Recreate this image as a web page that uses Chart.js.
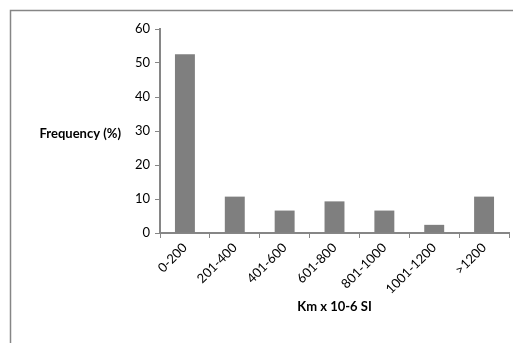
<!DOCTYPE html>
<html>
<head>
    <title>Km histogram</title>
    <script src="https://cdn.jsdelivr.net/npm/chart.js"></script>
    <style>
        html, body {
            margin: 0;
            padding: 0;
            background: #fff;
            overflow: hidden;
        }
        #wrap {
            width: 513px;
            height: 343px;
        }
    </style>
</head>
<body>
    <div id="wrap"><canvas id="kmChart"></canvas></div>

    <script>
        // data
        const categories = ['0-200', '201-400', '401-600', '601-800', '801-1000', '1001-1200', '>1200'];
        const frequency = [52.6, 10.7, 6.6, 9.3, 6.6, 2.4, 10.7];
        const yTitle = 'Frequency (%)';
        const xTitle = 'Km x 10-6 SI';

        const FONT = 'Lato, "Open Sans", sans-serif';
        const AXIS = '#868686';

        // outer frame + horizontal y title (Chart.js only draws it rotated)
        const extras = {
            id: 'extras',
            beforeDraw(chart) {
                const c = chart.ctx;
                c.save();
                c.strokeStyle = AXIS;
                c.lineWidth = 1.5;
                c.strokeRect(10.5, 10.5, 700, 500);
                c.restore();
            },
            afterDraw(chart) {
                const c = chart.ctx;
                const y = chart.scales.y;
                c.save();
                c.font = 'bold 13px ' + FONT;
                c.fillStyle = '#000';
                c.textAlign = 'right';
                c.textBaseline = 'middle';
                c.fillText(yTitle, 121, (y.top + y.bottom) / 2 + 3);
                c.restore();
            }
        };

        new Chart(document.getElementById('kmChart'), {
            type: 'bar',
            data: {
                labels: categories,
                datasets: [{
                    data: frequency,
                    backgroundColor: '#7f7f7f',
                    borderWidth: 0,
                    barPercentage: 0.4,
                    categoryPercentage: 1.0
                }]
            },
            options: {
                responsive: true,
                maintainAspectRatio: false,
                animation: false,
                layout: { padding: { top: 29, right: 4, bottom: 24, left: 0 } },
                plugins: {
                    legend: { display: false },
                    tooltip: { enabled: false }
                },
                scales: {
                    x: {
                        afterFit(scale) { scale.height = 86; },
                        grid: {
                            drawOnChartArea: false,
                            drawTicks: true,
                            tickLength: 5,
                            color: AXIS,
                            lineWidth: 1
                        },
                        border: { color: AXIS, width: 2 },
                        ticks: {
                            minRotation: 45,
                            maxRotation: 45,
                            padding: 2,
                            color: '#000',
                            font: { family: FONT, size: 13 }
                        },
                        title: {
                            display: true,
                            text: xTitle,
                            color: '#000',
                            font: { family: FONT, size: 13, weight: 'bold' }
                        }
                    },
                    y: {
                        min: 0,
                        max: 60,
                        afterFit(scale) { scale.width = 160; },
                        grid: {
                            drawOnChartArea: false,
                            drawTicks: true,
                            tickLength: 5,
                            color: AXIS
                        },
                        border: { color: AXIS, width: 2 },
                        ticks: {
                            stepSize: 10,
                            padding: 5,
                            color: '#000',
                            font: { family: FONT, size: 13 }
                        }
                    }
                }
            },
            plugins: [extras]
        });
    </script>
</body>
</html>
